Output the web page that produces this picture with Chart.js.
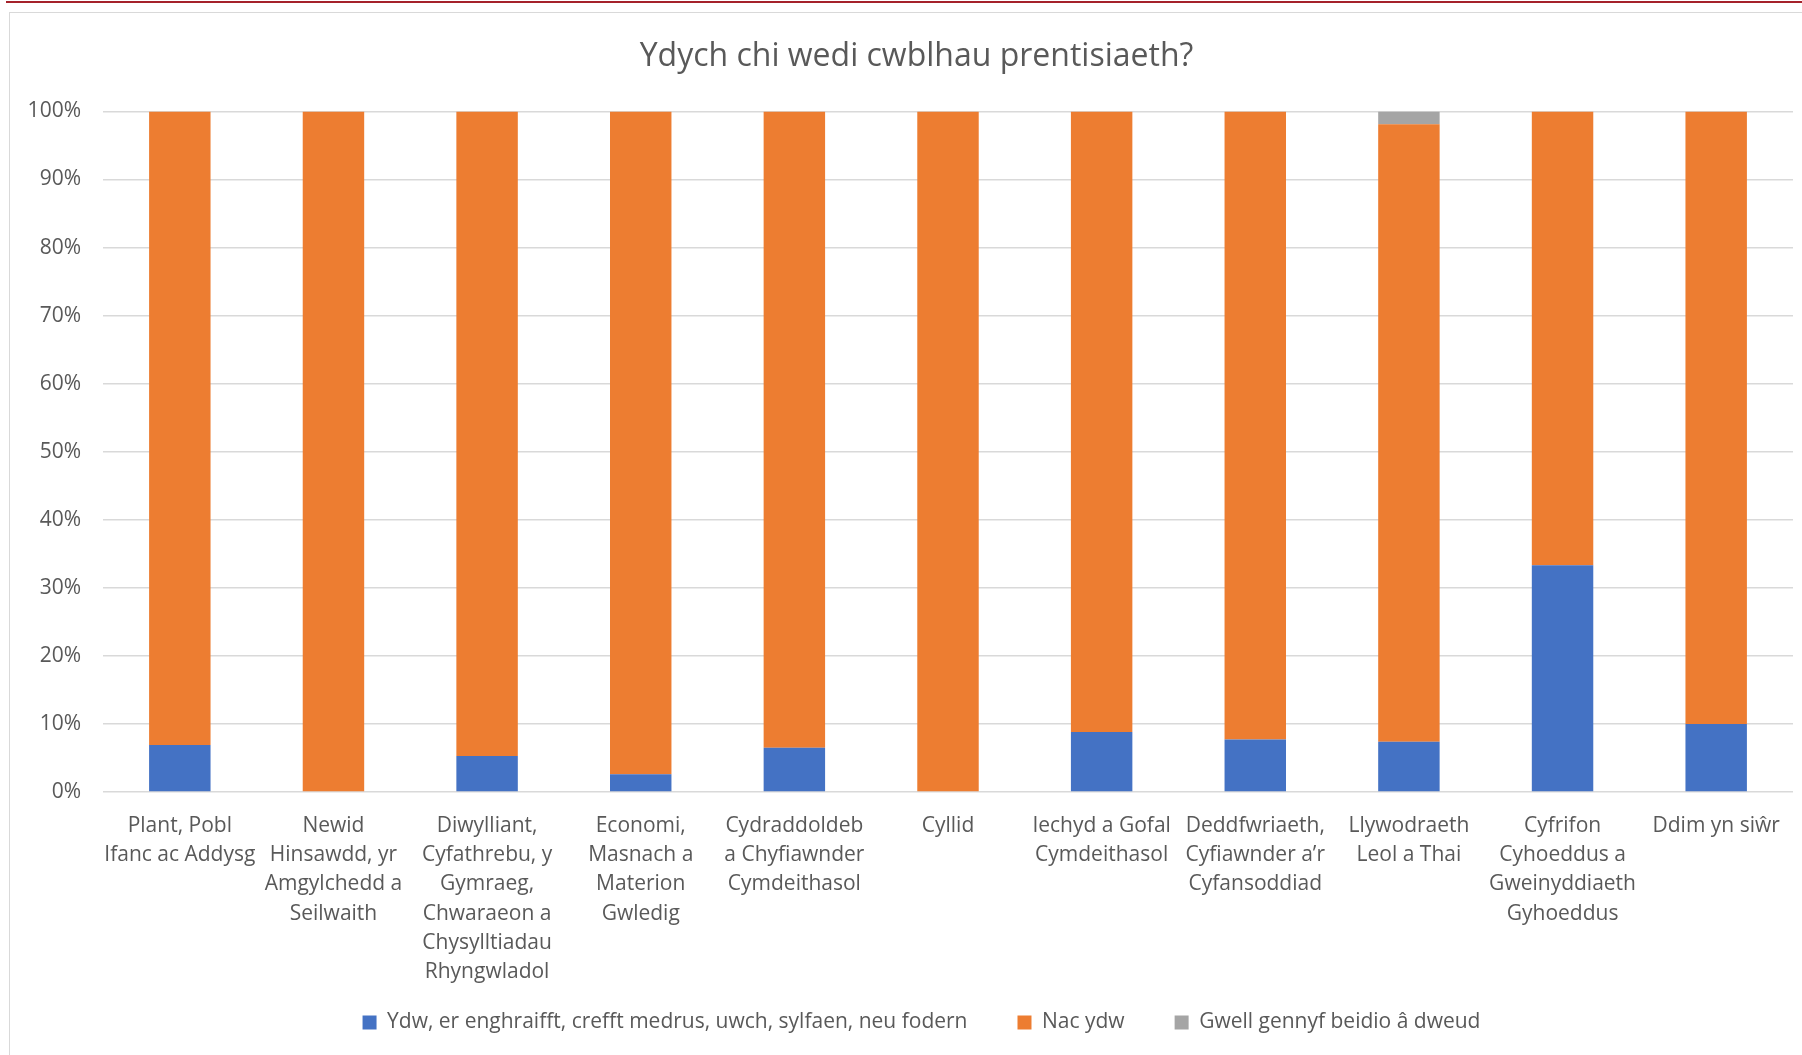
<!DOCTYPE html>
<html>
<head>
<meta charset="utf-8">
<script src="https://cdn.jsdelivr.net/npm/chart.js@4.4.1/dist/chart.umd.min.js"></script>
<style>
  body { margin: 0; background: #fff; overflow: hidden; }
  .topline { position: absolute; left: 6px; top: 1px; right: 0; height: 2px; background: #A5222B; }
  .frame { position: absolute; left: 9px; top: 12px; width: 2000px; height: 1100px; border: 1px solid #D9D9D9; }
  .wrap { position: absolute; left: 10px; top: 13px; width: 1792px; height: 1042px; }
</style>
</head>
<body>
<div class="topline"></div>
<div class="frame"></div>
<div class="wrap"><canvas id="myChart"></canvas></div>
<script>
// categories (multi-line labels as in the original)
const categories = [
    ["Plant, Pobl", "Ifanc ac Addysg"],
    ["Newid", "Hinsawdd, yr", "Amgylchedd a", "Seilwaith"],
    ["Diwylliant,", "Cyfathrebu, y", "Gymraeg,", "Chwaraeon a", "Chysylltiadau", "Rhyngwladol"],
    ["Economi,", "Masnach a", "Materion", "Gwledig"],
    ["Cydraddoldeb", "a Chyfiawnder", "Cymdeithasol"],
    ["Cyllid"],
    ["Iechyd a Gofal", "Cymdeithasol"],
    ["Deddfwriaeth,", "Cyfiawnder a’r", "Cyfansoddiad"],
    ["Llywodraeth", "Leol a Thai"],
    ["Cyfrifon", "Cyhoeddus a", "Gweinyddiaeth", "Gyhoeddus"],
    ["Ddim yn siŵr"]
];
const seriesNames = [
    "Ydw, er enghraifft, crefft medrus, uwch, sylfaen, neu fodern",
    "Nac ydw",
    "Gwell gennyf beidio â dweud"
];
const yesValues = [6.9, 0, 5.3, 2.6, 6.5, 0, 8.8, 7.7, 7.4, 33.3, 10];
const noValues = [93.1, 100, 94.7, 97.4, 93.5, 100, 91.2, 92.3, 90.7, 66.7, 90];
const preferNotValues = [0, 0, 0, 0, 0, 0, 0, 0, 1.9, 0, 0];
const yTicks = [0, 10, 20, 30, 40, 50, 60, 70, 80, 90, 100];

const textColor = '#595959';
const fontFamily = '"Open Sans", sans-serif';

// move the legend up into the space under the axis labels, and nudge legend + title right
const legendShift = {
    id: 'legendShift',
    afterLayout: function (chart) {
        const l = chart.legend;
        l.top -= 38;
        l.bottom -= 38;
        l.left += 20;
        l.right += 20;
        const t = chart.titleBlock;
        t.left += 15;
        t.right += 15;
    }
};

const ctx = document.getElementById('myChart').getContext('2d');
const config = {
    type: 'bar',
    data: {
        labels: categories,
        datasets: [{
            label: seriesNames[0],
            data: yesValues,
            backgroundColor: '#4472C4'
        }, {
            label: seriesNames[1],
            data: noValues,
            backgroundColor: '#ED7D31'
        }, {
            label: seriesNames[2],
            data: preferNotValues,
            backgroundColor: '#A5A5A5'
        }]
    },
    plugins: [legendShift],
    options: {
        responsive: true,
        maintainAspectRatio: false,
        animation: false,
        datasets: {
            bar: { barPercentage: 1, categoryPercentage: 0.4 }
        },
        layout: { padding: { left: 0, right: 9, top: 0, bottom: -26 } },
        plugins: {
            title: {
                display: true,
                text: 'Ydych chi wedi cwblhau prentisiaeth?',
                color: textColor,
                font: { family: fontFamily, size: 32, weight: 'normal' },
                padding: { top: 25, bottom: 35 }
            },
            legend: {
                position: 'bottom',
                labels: {
                    color: textColor,
                    font: { family: fontFamily, size: 21 },
                    boxWidth: 14,
                    boxHeight: 14,
                    padding: 50
                }
            },
            tooltip: { enabled: false }
        },
        scales: {
            x: {
                stacked: true,
                grid: { display: false },
                border: { display: false },
                ticks: {
                    color: textColor,
                    font: { family: fontFamily, size: 21, lineHeight: 1.395 },
                    padding: 11,
                    maxRotation: 0,
                    autoSkip: false
                },
                afterFit: function (scale) { scale.height = 208; }
            },
            y: {
                stacked: true,
                min: 0,
                max: 100,
                afterBuildTicks: function (scale) {
                    scale.ticks = yTicks.map(function (v) { return { value: v }; });
                },
                grid: { color: '#D9D9D9', lineWidth: 1.5, drawTicks: false },
                border: { display: false },
                ticks: {
                    color: textColor,
                    font: { family: fontFamily, size: 21 },
                    padding: 22,
                    callback: function (value) { return value + '%'; }
                },
                afterFit: function (scale) { scale.width = 93; }
            }
        }
    }
};
const myChart = new Chart(ctx, config);
</script>
</body>
</html>
